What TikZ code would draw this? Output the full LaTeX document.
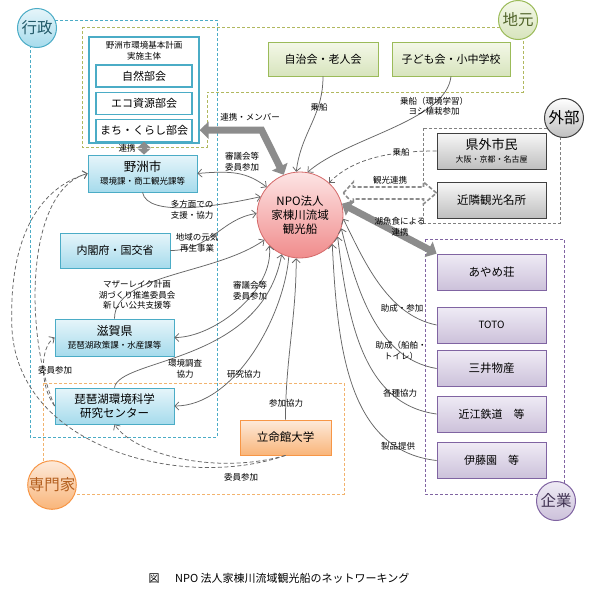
\documentclass[tikz,border=0pt]{standalone}
\usepackage{fontspec}
\setmainfont{Noto Sans CJK JP}
\usetikzlibrary{arrows.meta, positioning, calc}
\definecolor{govline}{HTML}{4BACC6}
\definecolor{govtop}{HTML}{E6F5FA}
\definecolor{govbot}{HTML}{A6DBEC}
\definecolor{govtext}{HTML}{215968}
\definecolor{locline}{HTML}{9BBB59}
\definecolor{loczone}{HTML}{B0B85E}
\definecolor{loctop}{HTML}{F4F8E8}
\definecolor{locbot}{HTML}{D7E4BD}
\definecolor{loctext}{HTML}{4F6228}
\definecolor{extline}{HTML}{404040}
\definecolor{exttop}{HTML}{F7F7F7}
\definecolor{extbot}{HTML}{BFBFBF}
\definecolor{comline}{HTML}{8064A2}
\definecolor{comtop}{HTML}{EFEBF5}
\definecolor{combot}{HTML}{CCC1DA}
\definecolor{comtext}{HTML}{3F3151}
\definecolor{expline}{HTML}{F79646}
\definecolor{expzone}{HTML}{F2B36E}
\definecolor{exptop}{HTML}{FDEADA}
\definecolor{expbot}{HTML}{F9B57A}
\definecolor{exptext}{HTML}{B45F1E}
\definecolor{npoline}{HTML}{D46A6A}
\definecolor{npotop}{HTML}{FDE4E4}
\definecolor{npobot}{HTML}{F08C8C}
\definecolor{linkgray}{HTML}{666666}
\definecolor{bandgray}{HTML}{8C8C8C}

\begin{document}
\begin{tikzpicture}[
    x=1pt, y=-1pt,
    box/.style={rectangle, draw, line width=0.8pt, align=center, inner sep=2pt,
                font=\fontsize{11}{13}\selectfont},
    gov/.style={box, draw=govline, top color=govtop, bottom color=govbot},
    unit/.style={box, draw=govline, fill=white, line width=1.1pt,
                 minimum width=96pt, minimum height=22pt},
    local/.style={box, draw=locline, top color=loctop, bottom color=locbot,
                  minimum width=110pt, minimum height=34pt},
    ext/.style={box, draw=extline, top color=exttop, bottom color=extbot, line width=1pt,
                minimum width=109pt, minimum height=36pt},
    com/.style={box, draw=comline, top color=comtop, bottom color=combot,
                minimum width=109pt, minimum height=36pt},
    expert/.style={box, draw=expline, top color=exptop, bottom color=expbot},
    tag/.style={circle, draw, line width=1pt, minimum size=39pt, inner sep=0pt,
                font=\fontsize{15.5}{16}\selectfont},
    zone/.style={dash pattern=on 3pt off 2pt, line width=0.9pt},
    lbl/.style={font=\fontsize{8.5}{10.5}\selectfont, align=center, inner sep=1pt},
    link/.style={draw=linkgray, line width=0.75pt, -{Straight Barb[length=4pt,width=8pt]}},
    twoway/.style={link, {Straight Barb[length=4pt,width=8pt]}-{Straight Barb[length=4pt,width=8pt]}},
    dlink/.style={link, dash pattern=on 4pt off 2.5pt},
    band/.style={draw=bandgray, line width=7pt, {Triangle[length=9pt,width=17pt]}-{Triangle[length=9pt,width=17pt]}},
  ]
  \fill[white] (0,0) rectangle (589,600);
  \useasboundingbox (0,0) rectangle (589,600);
  \draw[zone, draw=govline] (30,20) rectangle (217,437);
  \draw[zone, draw=loczone] (82,27) -- (523,27) -- (523,92) -- (207,92) -- (207,147) -- (82,147) -- cycle;
  \draw[zone, draw=gray] (423,128) rectangle (560,223);
  \draw[zone, draw=comline] (425,239) rectangle (564,494);
  \draw[zone, draw=expzone] (43,383) rectangle (344,494);

  \node[box, draw=govline, fill=white, line width=1.3pt, minimum width=110pt, minimum height=106pt] (plan) at (144,90) {};
  \node[lbl, font=\fontsize{8.5}{11}\selectfont] (plantitle) at (144,51) {野洲市環境基本計画\\実施主体};
  \node[unit] (sub1) at (144,76) {自然部会};
  \node[unit, below=4pt of sub1] (sub2) {エコ資源部会};
  \node[unit, below=4pt of sub2] (sub3) {まち・くらし部会};
  \node[gov, minimum width=109pt, minimum height=37pt] (yasu) at (142.5,173.5)
    {{\fontsize{12.5}{15}\selectfont 野洲市}\\{\fontsize{8.5}{10}\selectfont 環境課・商工観光課等}};
  \node[gov, minimum width=110pt, minimum height=35pt] (naikaku) at (115,250.5) {内閣府・国交省};
  \node[gov, minimum width=119pt, minimum height=37pt] (shiga) at (114.5,337.5)
    {{\fontsize{12}{15}\selectfont 滋賀県}\\{\fontsize{8.5}{10}\selectfont 琵琶湖政策課・水産課等}};
  \node[gov, minimum width=119pt, minimum height=36pt, font=\fontsize{11.5}{14}\selectfont] (biwako) at (114.5,406)
    {琵琶湖環境科学\\研究センター};
  \node[expert, minimum width=91pt, minimum height=35pt, font=\fontsize{11.5}{13}\selectfont] (ritsu) at (285.5,437.5) {立命館大学};
  \node[local] (jichi) at (323,59) {自治会・老人会};
  \node[local, minimum width=118pt] (kodomo) at (451,59) {子ども会・小中学校};
  \node[ext] (kengai) at (491.5,151)
    {{\fontsize{13}{15}\selectfont 県外市民}\\{\fontsize{8}{9}\selectfont 大阪・京都・名古屋}};
  \node[ext, below=12pt of kengai, font=\fontsize{11.5}{13}\selectfont] (kinrin) {近隣観光名所};
  \node[com, font=\fontsize{11.5}{13}\selectfont] (ayame) at (491.5,272) {あやめ荘};
  \node[com, font=\fontsize{10}{12}\selectfont] (toto) at (491.5,325) {TOTO};
  \node[com, font=\fontsize{11.5}{13}\selectfont] (mitsui) at (491.5,368.5) {三井物産};
  \node[com] (omi) at (491.5,414) {近江鉄道　等};
  \node[com] (itoen) at (491.5,460.5) {伊藤園　等};
  \node[circle, draw=npoline, line width=0.8pt, top color=npotop, bottom color=npobot, minimum size=86pt,
        inner sep=0pt, align=center, font=\fontsize{11.5}{14}\selectfont] (npo) at (300,215) {NPO法人\\家棟川流域\\観光船};

  \draw[band] (plan.east |- sub3.east) -- ++(62,0) -- (npo.112);
  \node[lbl] (lmember) at (250,117) {連携・メンバー};
  \draw[band, line width=5pt, {Triangle[length=6pt,width=13pt]}-{Triangle[length=6pt,width=13pt]}] (sub3.south) -- (sub3.south |- yasu.north);
  \node[lbl] (lrenkei) at (127,148) {連携};
  \draw[twoway] (yasu.east) .. controls +(35,-3) and +(-20,-15) .. (npo.140);
  \node[lbl] (lshingi1) at (242,162) {審議会等\\委員参加};
  \draw[link] (yasu.south) .. controls +(5,25) and +(-45,10) .. (npo.155);
  \node[lbl] (ltahomen) at (192,210) {多方面での\\支援・協力};
  \draw[link] (naikaku.east) .. controls +(40,0) and +(-35,5) .. (npo.178);
  \node[lbl] (lchiiki) at (197,243) {地域の元気\\再生事業};
  \draw[link] (shiga.north) .. controls +(0,-45) and +(-50,35) .. (npo.215);
  \node[lbl] (lmother) at (137,295) {マザーレイク計画\\湖づくり推進委員会\\新しい公共支援等};
  \draw[twoway] (npo.225) .. controls +(5,45) and +(40,0) .. (shiga.east);
  \node[lbl] (lshingi2) at (250,291) {審議会等\\委員参加};
  \draw[link] (biwako.north) .. controls +(5,-30) and +(-20,110) .. (npo.245);
  \node[lbl] (lchosa) at (185,369) {環境調査\\協力};
  \draw[link] (npo.255) .. controls +(-5,60) and +(60,0) .. (biwako.east);
  \node[lbl] (lkenkyu) at (244,374) {研究協力};
  \draw[link] (ritsu.north) .. controls +(0,-60) and +(0,60) .. (npo.265);
  \node[lbl] (lsanka) at (286,403) {参加協力};

  \draw[dlink] (ritsu.south) .. controls +(-70,20) and +(20,30) .. (biwako.south);
  \node[lbl] (liin2) at (241,477) {委員参加};
  \coordinate (loopl) at (12,330);
  \draw[dlink] (ritsu.south) .. controls +(-100,35) and +(8,120) .. (loopl)
    .. controls +(-4,-90) and +(-50,15) .. (yasu.west);
  \draw[dlink] (biwako.west) .. controls +(-15,-20) and +(-15,10) .. (shiga.west);
  \draw[dlink] (biwako.west) .. controls +(-30,-70) and +(-63,17) .. (yasu.west);
  \node[lbl] (liin1) at (55,370) {委員参加};

  \draw[link] (jichi.south) .. controls +(0,40) and +(5,-40) .. (npo.95);
  \node[lbl] (ljosen1) at (319,107) {乗船};
  \draw[link] (kodomo.south) .. controls +(-5,45) and +(40,-35) .. (npo.80);
  \node[lbl] (lgakushu) at (434,106) {乗船（環境学習）\\ヨシ植栽参加};
  \draw[dlink] (kengai.west) .. controls +(-45,0) and +(25,-25) .. (npo.48);
  \node[lbl, fill=white] (ljosen2) at (401,152) {乗船};

  \coordinate (hl) at (npo.east |- 0,193);
  \coordinate (hr) at (kinrin.west |- hl);
  \draw[draw=bandgray, line width=1.6pt, dash pattern=on 4pt off 2pt, fill=white]
    (hl) -- ++(10,-11) -- ++(0,5) -- ($(hr)+(-13,-6)$) -- ++(0,-5) -- (hr) -- ++(-13,11)
    -- ++(0,-5) -- ($(hl)+(10,6)$) -- ++(0,5) -- cycle;
  \node[lbl] (lkanko) at (390,180) {観光連携};
  \draw[band] (npo.15) -- (ayame.north west);
  \node[lbl] (lkogyo) at (400,227) {湖魚食による\\連携};

  \draw[link] (toto.west) .. controls +(-50,-10) and +(20,40) .. (npo.-5);
  \node[lbl] (ljosei1) at (402,308) {助成・参加};
  \draw[link] (mitsui.west) .. controls +(-60,-10) and +(15,60) .. (npo.-18);
  \node[lbl] (ljosei2) at (401,351) {助成（船舶・\\トイレ）};
  \draw[link] (omi.west) .. controls +(-75,-10) and +(10,80) .. (npo.-30);
  \node[lbl] (lkakushu) at (400,393) {各種協力};
  \draw[link] (itoen.west) .. controls +(-90,-10) and +(5,100) .. (npo.-42);
  \node[lbl] (lseihin) at (398,446) {製品提供};

  \node[tag, draw=govline, top color=govtop, bottom color=govbot, text=govtext] (gyosei) at (37,28) {行政};
  \node[tag, draw=locline, top color=loctop, bottom color=locbot, text=loctext] (jimoto) at (518,20) {地元};
  \node[tag, draw=extline, top color=white, bottom color=extbot] (gaibu) at (564,118) {外部};
  \node[tag, draw=comline, top color=comtop, bottom color=combot, text=comtext] (kigyo) at (556,501) {企業};
  \node[tag, draw=expline, top color=exptop, bottom color=expbot, text=exptext] (senmon) at (52,485) {専門家};

  \node[font=\fontsize{11}{13}\selectfont] (caption) at (279,578) {図\hspace{1.4em}NPO 法人家棟川流域観光船のネットワーキング};
\end{tikzpicture}
\end{document}
